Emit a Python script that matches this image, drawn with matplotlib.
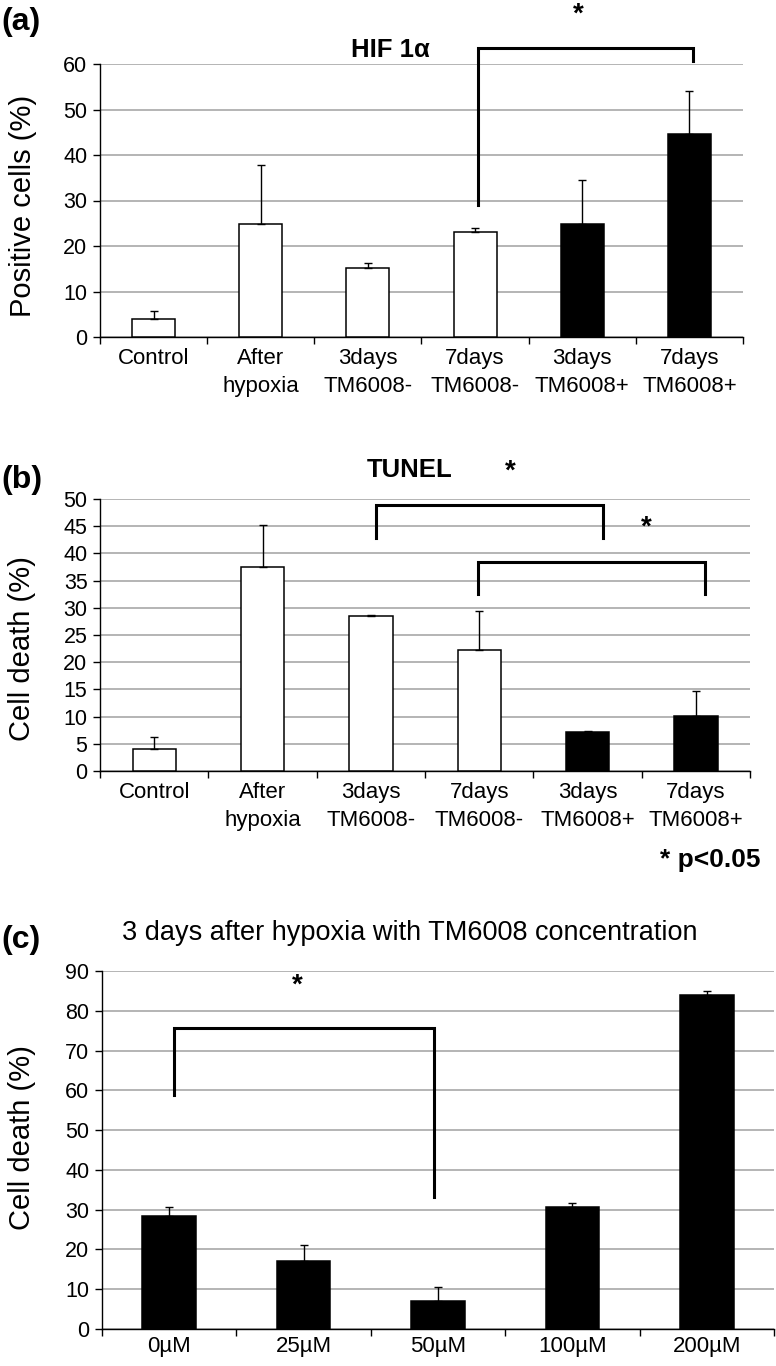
import matplotlib

matplotlib.use("Agg")
import matplotlib.pyplot as plt
import numpy as np

plt.rcParams["font.family"] = ["Liberation Sans", "DejaVu Sans"]

# ── data ──────────────────────────────────────────────────────────────
groups = ["Control", "After\nhypoxia", "3days\nTM6008-", "7days\nTM6008-",
          "3days\nTM6008+", "7days\nTM6008+"]
group_fill = ["white", "white", "white", "white", "black", "black"]

hif_mean = [3.9, 24.8, 15.2, 23.1, 24.8, 44.6]
hif_err = [1.8, 13.0, 1.1, 0.8, 9.7, 9.4]

tunel_mean = [4.0, 37.5, 28.5, 22.2, 7.2, 10.1]
tunel_err = [2.3, 7.7, 0.1, 7.2, 0.15, 4.6]

conc = ["0µM", "25µM", "50µM", "100µM", "200µM"]
conc_mean = [28.4, 17.1, 7.0, 30.6, 83.9]
conc_err = [2.3, 4.0, 3.6, 1.1, 1.0]

# significance brackets: (x_left, x_right, y_top, y_left_leg, y_right_leg, star_x, star_y)
hif_sig = [(3.03, 5.03, 63.5, 29.0, 60.7, 3.96, 70.8)]
tunel_sig = [(2.05, 4.14, 48.9, 42.8, 42.8, 3.29, 55.0),
             (2.99, 5.08, 38.4, 32.5, 32.5, 4.54, 44.7)]
conc_sig = [(0.036, 1.97, 75.6, 58.8, 33.2, 0.95, 86.4)]

GRID = "#a0a0a0"
W, H = 776, 1366


def panel(rect_px, labels, means, errs, fills, ymax, ystep, ylabel, sigs, ylab_y, xpad):
    l, t, r, b = rect_px
    ax = fig.add_axes([l / W, 1 - b / H, (r - l) / W, (b - t) / H])
    x = np.arange(len(labels))
    ax.bar(x, means, width=0.4, color=fills, edgecolor="black", linewidth=1.1, zorder=3)
    ax.errorbar(x, means, yerr=[np.zeros(len(errs)), errs], fmt="none",
                ecolor="black", elinewidth=1.0, capsize=3, capthick=1.0, zorder=4)
    ax.set_xlim(-0.5, len(labels) - 0.5)
    ax.set_ylim(0, ymax)
    ax.set_yticks(np.arange(0, ymax + 0.1, ystep))
    ax.yaxis.grid(True, color=GRID, linewidth=1.1, zorder=0)
    ax.set_axisbelow(True)
    for s in ("top", "right"):
        ax.spines[s].set_visible(False)
    for s in ("left", "bottom"):
        ax.spines[s].set_linewidth(1.0)
    ax.set_xticks(x, labels, linespacing=1.45)
    ax.set_xticks(np.arange(-0.5, len(labels)), minor=True)
    ax.tick_params(axis="x", which="major", length=0, pad=xpad, labelsize=16)
    ax.tick_params(axis="x", which="minor", length=5, width=1.0, direction="out")
    ax.tick_params(axis="y", length=5, width=1.0, direction="out", pad=4, labelsize=15.5)
    ax.set_ylabel(ylabel, fontsize=21)
    ax.yaxis.set_label_coords(-0.098, ylab_y)
    for x0, x1, yt, yl, yr, sx, sy in sigs:
        ax.plot([x0, x0, x1, x1], [yl, yt, yt, yr], color="black", linewidth=2.2,
                solid_joinstyle="miter", clip_on=False, zorder=5)
        ax.text(sx, sy, "*", ha="center", va="center", fontsize=20,
                fontweight="bold", clip_on=False)
    return ax


fig = plt.figure(figsize=(W / 100, H / 100), dpi=100)

panel((100, 64, 743, 337), groups, hif_mean, hif_err, group_fill, 60, 10,
      "Positive cells (%)", hif_sig, 0.48, 8)
panel((100, 499, 750, 771), groups, tunel_mean, tunel_err, group_fill, 50, 5,
      "Cell death (%)", tunel_sig, 0.45, 8)
panel((102, 971, 774, 1329), conc, conc_mean, conc_err, ["black"] * len(conc), 90, 10,
      "Cell death (%)", conc_sig, 0.536, 5)

fig.text(1 / W, 1 - 22 / H, "(a)", fontsize=23, fontweight="bold", va="center")
fig.text(1 / W, 1 - 480 / H, "(b)", fontsize=23, fontweight="bold", va="center")
fig.text(1 / W, 1 - 940 / H, "(c)", fontsize=23, fontweight="bold", va="center")

fig.text(390 / W, 1 - 50 / H, "HIF 1α", fontsize=18.5, fontweight="bold", ha="center", va="center")
fig.text(410 / W, 1 - 470 / H, "TUNEL", fontsize=18.5, fontweight="bold", ha="center", va="center")
fig.text(410 / W, 1 - 933 / H, "3 days after hypoxia with TM6008 concentration",
         fontsize=19.5, ha="center", va="center")
fig.text(760 / W, 1 - 860 / H, "* p<0.05", fontsize=19, fontweight="bold", ha="right", va="center")

fig.savefig("out.png", dpi=100)
